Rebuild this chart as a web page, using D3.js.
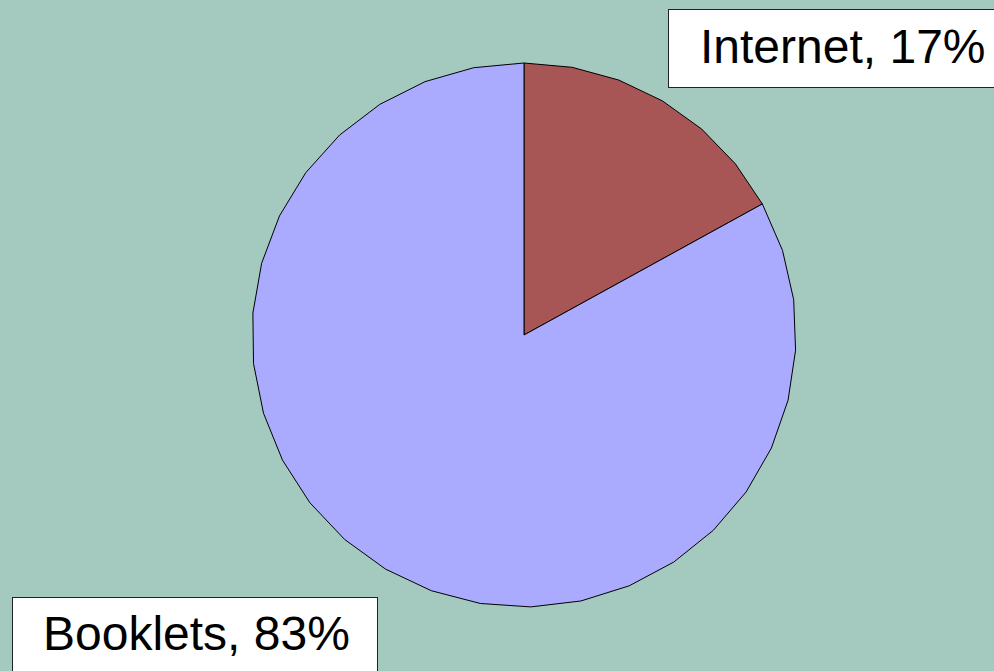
<!DOCTYPE html>
<html>
<head>
<meta charset="utf-8">
<script src="https://cdn.jsdelivr.net/npm/d3@7"></script>
<style>
  body { margin: 0; background: #a4c9bf; overflow: hidden; }
  text { font-family: "Liberation Sans", Arial, sans-serif; }
</style>
</head>
<body>
<div id="chart"></div>
<script>
var width = 994, height = 671;

var categories = ["Internet", "Booklets"];
var values = [17, 83];
var colors = ["#a85555", "#aaaaff"];

var cx = 524, cy = 335, radius = 272;

var svg = d3.select("#chart").append("svg")
    .attr("width", width)
    .attr("height", height);

svg.append("rect")
    .attr("width", width)
    .attr("height", height)
    .attr("fill", "#a4c9bf");

var dataset = categories.map((c, i) => ({name: c, value: values[i]}));

var pie = d3.pie().sort(null).value(d => d.value);
var arcs = pie(dataset);

// the original pie is drawn as a polygon, so sample each arc in steps
var step = Math.PI * 2 / 34;
var radial = d3.lineRadial()
    .angle(d => d[0])
    .radius(d => d[1]);

function facetPath(d) {
    var n = Math.max(1, Math.round((d.endAngle - d.startAngle) / step));
    var pts = [[d.startAngle, 0]];
    for (var i = 0; i <= n; i++) {
        pts.push([d.startAngle + (d.endAngle - d.startAngle) * i / n, radius]);
    }
    return radial(pts) + "Z";
}

var g = svg.append("g")
    .attr("transform", "translate(" + cx + "," + cy + ")");

g.selectAll(".slice")
    .data(arcs)
    .enter().append("path")
    .attr("class", "slice")
    .attr("d", facetPath)
    .attr("fill", (d, i) => colors[i])
    .attr("stroke", "#000")
    .attr("stroke-width", 1)
    .attr("stroke-linejoin", "round");

// label boxes
var labelBoxes = [
    {x: 668.5, y: 9.5, w: 340, h: 78, tx: 700, ty: 63},
    {x: 12.5, y: 597.5, w: 365, h: 90, tx: 43, ty: 650}
];

var labels = svg.selectAll(".label")
    .data(arcs)
    .enter().append("g")
    .attr("class", "label");

labels.append("rect")
    .attr("x", (d, i) => labelBoxes[i].x)
    .attr("y", (d, i) => labelBoxes[i].y)
    .attr("width", (d, i) => labelBoxes[i].w)
    .attr("height", (d, i) => labelBoxes[i].h)
    .attr("fill", "#fff")
    .attr("stroke", "#222")
    .attr("stroke-width", 1);

labels.append("text")
    .attr("x", (d, i) => labelBoxes[i].tx)
    .attr("y", (d, i) => labelBoxes[i].ty)
    .attr("font-size", 48)
    .attr("fill", "#000")
    .text(d => d.data.name + ", " + d.data.value + "%");
</script>
</body>
</html>
